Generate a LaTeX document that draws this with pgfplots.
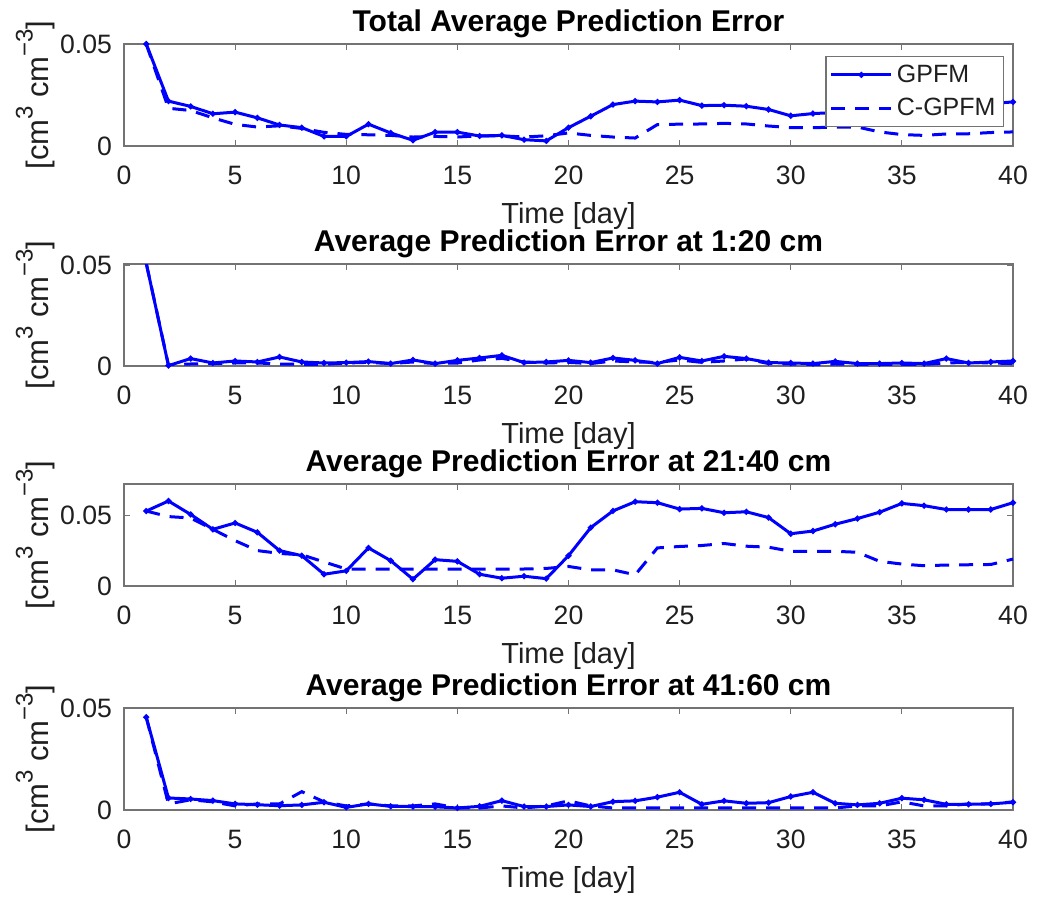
\documentclass[border=0pt]{standalone}
\usepackage{pgfplots}
\usepackage{pgfplotstable}
\pgfplotsset{compat=1.18}
\usepackage{fontspec}
\setmainfont{Liberation Sans}
\definecolor{axgray}{gray}{0.45}
\definecolor{txt}{gray}{0.12}
\newcommand\sups[1]{\raisebox{0.5em}{\fontsize{12}{12}\selectfont #1}}

\pgfplotstableread{
x g c
1 0.050 0.050
2 0.0220 0.0185
3 0.0194 0.0174
4 0.0158 0.0138
5 0.0166 0.0106
6 0.0138 0.0093
7 0.0103 0.0099
8 0.0090 0.0086
9 0.0047 0.0067
10 0.0047 0.0057
11 0.0107 0.0055
12 0.0064 0.0052
13 0.0028 0.0044
14 0.0068 0.0047
15 0.0068 0.0044
16 0.0049 0.0050
17 0.0052 0.0050
18 0.0031 0.0044
19 0.0025 0.0050
20 0.0090 0.0064
21 0.0146 0.0052
22 0.0203 0.0044
23 0.0220 0.0039
24 0.0216 0.0105
25 0.0225 0.0107
26 0.0198 0.0108
27 0.0200 0.0111
28 0.0195 0.0108
29 0.0179 0.0098
30 0.0148 0.0090
31 0.0159 0.0090
32 0.0164 0.0092
33 0.0165 0.0093
34 0.0170 0.0069
35 0.0178 0.0056
36 0.0185 0.0052
37 0.0192 0.0059
38 0.0200 0.0060
39 0.0208 0.0066
40 0.0216 0.0069
}\tabA

\pgfplotstableread{
x g c
1 0.0512 0.0512
2 0.0002 0.0005
3 0.0037 0.0010
4 0.0015 0.0012
5 0.0025 0.0015
6 0.0020 0.0015
7 0.0045 0.0010
8 0.0020 0.0008
9 0.0015 0.0008
10 0.0017 0.0015
11 0.0022 0.0018
12 0.0012 0.0012
13 0.0030 0.0020
14 0.0012 0.0012
15 0.0028 0.0015
16 0.0040 0.0030
17 0.0053 0.0038
18 0.0017 0.0020
19 0.0020 0.0015
20 0.0028 0.0018
21 0.0017 0.0012
22 0.0040 0.0025
23 0.0028 0.0020
24 0.0012 0.0018
25 0.0043 0.0030
26 0.0025 0.0018
27 0.0048 0.0025
28 0.0037 0.0035
29 0.0017 0.0012
30 0.0015 0.0010
31 0.0012 0.0008
32 0.0023 0.0010
33 0.0012 0.0008
34 0.0012 0.0008
35 0.0015 0.0005
36 0.0012 0.0008
37 0.0037 0.0015
38 0.0015 0.0018
39 0.0020 0.0015
40 0.0025 0.0012
}\tabB

\pgfplotstableread{
x g c
1 0.0529 0.0529
2 0.0600 0.0490
3 0.0505 0.0480
4 0.0400 0.0400
5 0.0445 0.0320
6 0.0379 0.0250
7 0.0250 0.0230
8 0.0214 0.0220
9 0.0083 0.0170
10 0.0107 0.0120
11 0.0269 0.0120
12 0.0179 0.0120
13 0.0048 0.0120
14 0.0186 0.0120
15 0.0174 0.0120
16 0.0083 0.0120
17 0.0055 0.0120
18 0.0069 0.0120
19 0.0052 0.0124
20 0.0214 0.0138
21 0.0412 0.0114
22 0.0530 0.0114
23 0.0595 0.0079
24 0.0588 0.0269
25 0.0543 0.0279
26 0.0548 0.0286
27 0.0517 0.0300
28 0.0524 0.0281
29 0.0483 0.0274
30 0.0369 0.0245
31 0.0388 0.0245
32 0.0436 0.0245
33 0.0476 0.0238
34 0.0521 0.0174
35 0.0583 0.0155
36 0.0567 0.0143
37 0.0540 0.0148
38 0.0540 0.0150
39 0.0540 0.0152
40 0.0588 0.0190
}\tabC

\pgfplotstableread{
x g c
1 0.0455 0.0455
2 0.0059 0.0030
3 0.0054 0.0050
4 0.0046 0.0040
5 0.0030 0.0020
6 0.0026 0.0030
7 0.0021 0.0030
8 0.0025 0.0090
9 0.0038 0.0040
10 0.0013 0.0020
11 0.0030 0.0030
12 0.0018 0.0020
13 0.0017 0.0020
14 0.0016 0.0030
15 0.0010 0.0010
16 0.0018 0.0010
17 0.0046 0.0020
18 0.0017 0.0010
19 0.0017 0.0020
20 0.0025 0.0045
21 0.0017 0.0020
22 0.0041 0.0010
23 0.0045 0.0010
24 0.0063 0.0010
25 0.0087 0.0010
26 0.0028 0.0010
27 0.0045 0.0010
28 0.0033 0.0010
29 0.0036 0.0010
30 0.0066 0.0010
31 0.0087 0.0010
32 0.0033 0.0010
33 0.0025 0.0020
34 0.0033 0.0020
35 0.0058 0.0040
36 0.0050 0.0020
37 0.0028 0.0020
38 0.0028 0.0030
39 0.0030 0.0030
40 0.0038 0.0040
}\tabD

\pgfplotsset{
  panel/.style={
    width=444.5pt, height=51pt, scale only axis,
    anchor=north west,
    xmin=0, xmax=40, ymin=0,
    scaled y ticks=false, scaled x ticks=false,
    xtick={0,5,10,15,20,25,30,35,40},
    xticklabels={0,5,10,15,20,25,30,35,40},
    ytick={0,0.05}, yticklabels={0,0.05},
    tick align=inside, major tick length=3pt,
    axis line style={axgray, line width=0.6pt},
    every tick/.style={axgray, line width=0.6pt},
    tick label style={font=\fontsize{13.3}{16}\selectfont, text=txt},
    xticklabel style={yshift=-6.5pt},
    yticklabel style={xshift=-2.5pt},
    xlabel={Time [day]},
    xlabel style={font=\fontsize{14.5}{17}\selectfont, text=txt, yshift=-2pt},
    ylabel={[cm\sups{3} cm\sups{−3}]},
    ylabel style={font=\fontsize{15.5}{18}\selectfont, text=txt,
      at={(axis description cs:-0.1,0.5)}, anchor=center, rotate=0},
    title style={font=\bfseries\fontsize{15}{18}\selectfont, yshift=-6.5pt},
    clip=true,
  },
  gp/.style={blue, line width=1.5pt, mark=*, mark size=0.6pt},
  cg/.style={blue, line width=1.5pt, dash pattern=on 7pt off 5pt},
}

\begin{document}
\begin{tikzpicture}
\path[use as bounding box] (0,0) rectangle (523.5pt,-448.5pt);

\begin{axis}[panel, at={(62pt,-22pt)}, ymax=0.05,
  title={Total Average Prediction Error},
  legend style={at={(axis description cs:0.99,0.882)}, anchor=north east,
    draw=axgray, line width=0.6pt, fill=white,
    font=\fontsize{12.5}{15}\selectfont, text=txt,
    inner sep=2pt, row sep=2.5pt},
  legend cell align=left,
  legend image code/.code={\draw[mark repeat=2,mark phase=2,#1] plot coordinates {(0pt,0pt) (15pt,0pt) (30pt,0pt)};},
  ]
\addplot[gp] table[x=x,y=g]{\tabA};
\addplot[cg] table[x=x,y=c]{\tabA};
\legend{GPFM,C-GPFM}
\end{axis}

\begin{axis}[panel, at={(62pt,-132pt)}, ymax=0.0508,
  title={Average Prediction Error at 1:20 cm}]
\addplot[gp] table[x=x,y=g]{\tabB};
\addplot[cg] table[x=x,y=c]{\tabB};
\end{axis}

\begin{axis}[panel, at={(62pt,-242pt)}, ymax=0.072,
  title={Average Prediction Error at 21:40 cm}]
\addplot[gp] table[x=x,y=g]{\tabC};
\addplot[cg] table[x=x,y=c]{\tabC};
\end{axis}

\begin{axis}[panel, at={(62pt,-354pt)}, ymax=0.05,
  title={Average Prediction Error at 41:60 cm}]
\addplot[gp] table[x=x,y=g]{\tabD};
\addplot[cg] table[x=x,y=c]{\tabD};
\end{axis}
\end{tikzpicture}
\end{document}
